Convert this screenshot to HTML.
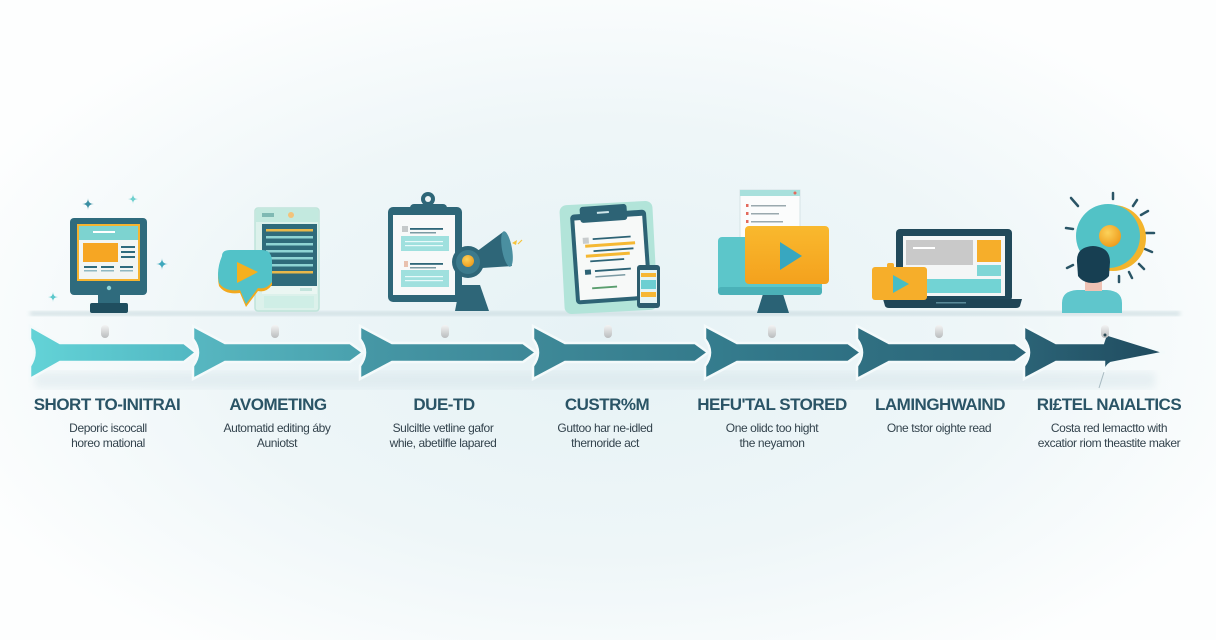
<!DOCTYPE html>
<html><head><meta charset="utf-8">
<style>
html,body{margin:0;padding:0;}
body{width:1216px;height:640px;overflow:hidden;background:#fbfdfd;}
svg{display:block;}
.t{font-family:"Liberation Sans",Arial,sans-serif;font-weight:bold;font-size:17px;letter-spacing:-0.5px;fill:#2a5466;text-anchor:middle;}
.d{font-family:"Liberation Sans",Arial,sans-serif;font-size:12px;letter-spacing:-0.4px;fill:#33434d;text-anchor:middle;}
</style></head>
<body>
<svg width="1216" height="640" viewBox="0 0 1216 640" xmlns="http://www.w3.org/2000/svg">
<defs>
<radialGradient id="bg" cx="608" cy="340" r="700" gradientUnits="userSpaceOnUse" gradientTransform="translate(0 340) scale(1 0.55) translate(0 -340)">
<stop offset="0" stop-color="#e6f2f5"/>
<stop offset="0.55" stop-color="#eef6f8"/>
<stop offset="1" stop-color="#fdfefe"/>
</radialGradient>
<filter id="blur4"><feGaussianBlur stdDeviation="4"/></filter>
<filter id="blur2"><feGaussianBlur stdDeviation="2"/></filter>
<linearGradient id="g1" x1="0" x2="1"><stop offset="0" stop-color="#63d3d7"/><stop offset="1" stop-color="#52b7c2"/></linearGradient>
<linearGradient id="g2" x1="0" x2="1"><stop offset="0" stop-color="#57b7c1"/><stop offset="1" stop-color="#49a0ad"/></linearGradient>
<linearGradient id="g3" x1="0" x2="1"><stop offset="0" stop-color="#4698a6"/><stop offset="1" stop-color="#3d8797"/></linearGradient>
<linearGradient id="g4" x1="0" x2="1"><stop offset="0" stop-color="#3e8998"/><stop offset="1" stop-color="#347a8b"/></linearGradient>
<linearGradient id="g5" x1="0" x2="1"><stop offset="0" stop-color="#357d8e"/><stop offset="1" stop-color="#2e6f82"/></linearGradient>
<linearGradient id="g6" x1="0" x2="1"><stop offset="0" stop-color="#307082"/><stop offset="1" stop-color="#2a6477"/></linearGradient>
<linearGradient id="g7" x1="0" x2="1"><stop offset="0" stop-color="#2b6376"/><stop offset="1" stop-color="#1f4a5e"/></linearGradient>
<linearGradient id="pin" x1="0" x2="0" y1="0" y2="1"><stop offset="0" stop-color="#f4f4f4"/><stop offset="1" stop-color="#b9bcbd"/></linearGradient>
<linearGradient id="org" x1="0" x2="0" y1="0" y2="1"><stop offset="0" stop-color="#f9b92e"/><stop offset="1" stop-color="#f4a11d"/></linearGradient>
<radialGradient id="dot" cx="0.4" cy="0.35" r="0.7"><stop offset="0" stop-color="#fcd25a"/><stop offset="1" stop-color="#ee9a1a"/></radialGradient>
</defs>

<rect width="1216" height="640" fill="url(#bg)"/>

<rect x="30" y="311" width="1150" height="5" fill="#c7d9de" opacity="0.7" filter="url(#blur2)"/>
<rect x="35" y="372" width="1120" height="16" fill="#d4e3e8" opacity="0.45" filter="url(#blur4)"/>

<!-- ===== ICON 1 ===== -->
<g>
<path d="M88,198 Q88,204 94,204 Q88,204 88,210 Q88,204 82,204 Q88,204 88,198Z" fill="#3a8fa3"/>
<path d="M133,194 Q133,199 138,199 Q133,199 133,204 Q133,199 128,199 Q133,199 133,194Z" fill="#6fd0cf"/>
<path d="M162,258 Q162,264 168,264 Q162,264 162,270 Q162,264 156,264 Q162,264 162,258Z" fill="#3fa8bd"/>
<path d="M53,292 Q53,297 58,297 Q53,297 53,302 Q53,297 48,297 Q53,297 53,292Z" fill="#5cc8cc"/>
<rect x="70" y="218" width="77" height="77" rx="4" fill="#2f6b7d"/>
<rect x="77" y="224" width="63" height="57" fill="#f5b430"/>
<rect x="79" y="226" width="59" height="53" fill="#f2f5f3"/>
<rect x="79" y="226" width="59" height="14" fill="#7dd3d0"/>
<rect x="93" y="231" width="22" height="2" fill="#ffffff"/>
<rect x="83" y="243" width="35" height="19" fill="#f6a623"/>
<rect x="121" y="246" width="14" height="2" fill="#2f6b7d"/>
<rect x="121" y="251" width="14" height="2" fill="#2f6b7d"/>
<rect x="121" y="256" width="14" height="2" fill="#2f6b7d"/>
<rect x="84" y="266" width="13" height="2" fill="#2f6b7d"/>
<rect x="101" y="266" width="13" height="2" fill="#2f6b7d"/>
<rect x="120" y="266" width="13" height="2" fill="#2f6b7d"/>
<rect x="84" y="270" width="13" height="1.5" fill="#8fb8c2"/>
<rect x="101" y="270" width="13" height="1.5" fill="#8fb8c2"/>
<rect x="120" y="270" width="13" height="1.5" fill="#8fb8c2"/>
<circle cx="109" cy="288" r="2.2" fill="#8fd3d6"/>
<rect x="98" y="295" width="22" height="9" fill="#2f6b7d"/>
<rect x="90" y="303" width="38" height="10" rx="2" fill="#1f4e5f"/>
</g>

<!-- ===== ICON 2 ===== -->
<g>
<rect x="255" y="208" width="64" height="103" rx="3" fill="#dcf1eb" stroke="#bfe4da" stroke-width="1.5"/>
<rect x="256" y="209" width="62" height="13" fill="#c3e9df"/>
<rect x="262" y="213" width="12" height="4" fill="#7fb9b3"/>
<circle cx="291" cy="215" r="3" fill="#f3c37a"/>
<rect x="262" y="224" width="55" height="62" fill="#2f6b7b"/>
<rect x="266" y="229" width="47" height="2.5" fill="#e8b84a"/>
<rect x="266" y="236" width="47" height="2.5" fill="#8fd4d4"/>
<rect x="266" y="243" width="47" height="2.5" fill="#8fd4d4"/>
<rect x="266" y="250" width="47" height="2.5" fill="#8fd4d4"/>
<rect x="266" y="257" width="47" height="2.5" fill="#8fd4d4"/>
<rect x="266" y="264" width="47" height="2.5" fill="#8fd4d4"/>
<rect x="266" y="271" width="47" height="2.5" fill="#e8b84a"/>
<rect x="262" y="286" width="55" height="8" fill="#eaf6f2"/>
<rect x="300" y="288" width="12" height="3" fill="#c2e4dc"/>
<rect x="264" y="296" width="50" height="12" fill="#cfeee6"/>
<path d="M222,259 Q222,253 230,253 L262,253 Q272,253 272,265 L272,285 Q266,293 258,291 L246,307 L240,293 Q225,295 219,286 Q216,273 222,259Z" fill="#f2a91e"/>
<path d="M222,256 Q222,250 230,250 L262,250 Q272,250 272,262 L272,282 Q266,290 258,288 L246,304 L240,290 Q225,292 219,283 Q216,270 222,256Z" fill="#52c2c8"/>
<path d="M237,262 L258,272 L237,283Z" fill="#f6b01e"/>
</g>

<!-- ===== ICON 3 ===== -->
<g>
<rect x="388" y="207" width="74" height="95" rx="5" fill="#2e6678"/>
<rect x="393" y="215" width="62" height="80" fill="#f7f9f9"/>
<circle cx="428" cy="199" r="7" fill="#2e6678"/>
<circle cx="428" cy="199" r="3" fill="#eef5f6"/>
<rect x="410" y="204" width="37" height="11" rx="4" fill="#2e6678"/>
<rect x="402" y="226" width="6" height="6" fill="#c5c9ca"/>
<rect x="410" y="228" width="33" height="1.8" fill="#2e6678"/>
<rect x="410" y="232" width="26" height="1.5" fill="#7b9aa3"/>
<rect x="401" y="236" width="48" height="15" fill="#9fe0de"/>
<rect x="405" y="241" width="38" height="1.2" fill="#e8fafa"/>
<rect x="405" y="245" width="38" height="1.2" fill="#e8fafa"/>
<rect x="404" y="261" width="4" height="6" fill="#e9c1ae"/>
<rect x="410" y="263" width="33" height="1.8" fill="#2e6678"/>
<rect x="410" y="267" width="26" height="1.5" fill="#7b9aa3"/>
<rect x="401" y="270" width="48" height="17" fill="#9fe0de"/>
<rect x="405" y="276" width="38" height="1.2" fill="#e8fafa"/>
<rect x="405" y="280" width="38" height="1.2" fill="#e8fafa"/>
<path d="M460,285 L480,285 L489,311 L455,311Z" fill="#2e6678"/>
<path d="M476,252 L503,232 L512,266 L482,268Z" fill="#2e6678"/>
<ellipse cx="507" cy="249" rx="5" ry="18" transform="rotate(-10 507 249)" fill="#4a8fa0"/>
<circle cx="468" cy="262" r="16" fill="#2e6678"/>
<circle cx="468" cy="262" r="12" fill="#3c7a8c"/>
<circle cx="468" cy="261" r="6" fill="url(#dot)"/>
<path d="M512,243 L517,240 L516,245Z" fill="#f5c33b"/>
<path d="M518,244 L522,240" stroke="#f5c33b" stroke-width="1.2"/>
</g>

<!-- ===== ICON 4 ===== -->
<g>
<rect x="562" y="203" width="93" height="109" rx="7" fill="#b2e4d9" transform="rotate(-3 608 257)"/>
<g transform="rotate(-4 611 257)">
<rect x="573" y="212" width="76" height="90" rx="4" fill="#2d6375"/>
<rect x="577" y="218" width="68" height="80" fill="#f7f9f8"/>
<rect x="583" y="205" width="47" height="16" rx="3" fill="#2d6375"/>
<rect x="600" y="211" width="12" height="2" fill="#cfe6ea"/>
<rect x="584" y="236" width="6" height="6" fill="#c8cccd"/>
<rect x="594" y="237" width="38" height="1.8" fill="#2d6375"/>
<rect x="586" y="243" width="50" height="3" fill="#f5b833"/>
<rect x="594" y="249" width="40" height="1.8" fill="#2d6375"/>
<rect x="586" y="253" width="44" height="3" fill="#f5b833"/>
<rect x="590" y="259" width="34" height="1.8" fill="#2d6375"/>
<rect x="584" y="268" width="6" height="5" fill="#2d6375"/>
<rect x="594" y="269" width="36" height="1.8" fill="#2d6375"/>
<rect x="594" y="275" width="30" height="1.5" fill="#7b9aa3"/>
<rect x="590" y="286" width="25" height="1.8" fill="#5a9e6e"/>
</g>
<rect x="637" y="265" width="23" height="43" rx="3" fill="#2d5d6e"/>
<rect x="640" y="270" width="17" height="33" fill="#e4f4f4"/>
<rect x="641" y="273" width="15" height="4" fill="#f6b733"/>
<rect x="641" y="280" width="15" height="9" fill="#6ccfd2"/>
<rect x="641" y="292" width="15" height="5" fill="#f6b733"/>
</g>

<!-- ===== ICON 5 ===== -->
<g>
<rect x="740" y="190" width="60" height="50" fill="#fbfcfc" stroke="#d6e3e6"/>
<rect x="740" y="190" width="60" height="6" fill="#a8e0dc"/>
<circle cx="795" cy="193" r="1.5" fill="#e36a5c"/>
<rect x="746" y="204" width="2.5" height="3" fill="#e36a5c"/>
<rect x="751" y="205" width="35" height="1.5" fill="#9aa9ae"/>
<rect x="746" y="212" width="2.5" height="3" fill="#e36a5c"/>
<rect x="751" y="213" width="28" height="1.5" fill="#9aa9ae"/>
<rect x="746" y="220" width="2.5" height="3" fill="#e36a5c"/>
<rect x="751" y="221" width="32" height="1.5" fill="#9aa9ae"/>
<path d="M763,294 L783,294 L789,313 L757,313Z" fill="#2a6275"/>
<rect x="718" y="237" width="104" height="58" rx="4" fill="#5cc6ca"/>
<rect x="718" y="287" width="104" height="8" rx="3" fill="#4bb1b8"/>
<rect x="745" y="226" width="84" height="58" rx="4" fill="url(#org)"/>
<path d="M780,242 L802,256 L780,270Z" fill="#38a7c0"/>
</g>

<!-- ===== ICON 6 ===== -->
<g>
<rect x="896" y="229" width="116" height="72" rx="4" fill="#21495a"/>
<rect x="903" y="236" width="102" height="60" fill="#f4f6f6"/>
<rect x="906" y="240" width="67" height="25" fill="#c9c9c9"/>
<rect x="913" y="247" width="22" height="2" fill="#ffffff"/>
<rect x="977" y="240" width="24" height="22" fill="#f6ae2a"/>
<rect x="977" y="265" width="24" height="11" fill="#7fd6d6"/>
<rect x="906" y="279" width="95" height="14" fill="#72d3d4"/>
<path d="M883,299 L1022,299 L1020,306 Q1019,308 1016,308 L889,308 Q886,308 885,306Z" fill="#1f4556"/>
<rect x="936" y="302" width="30" height="1.5" fill="#5a8a99"/>
<rect x="887" y="263" width="7" height="6" rx="2" fill="#f6ae2a"/>
<rect x="872" y="267" width="55" height="33" rx="3" fill="#f6ae2a"/>
<path d="M893,275 L909,284 L893,293Z" fill="#47bdc5"/>
</g>

<!-- ===== ICON 7 ===== -->
<g stroke="#2a5566" stroke-width="2.5" stroke-linecap="round">
<line x1="1113" y1="193" x2="1113" y2="199"/>
<line x1="1071" y1="198" x2="1078" y2="206"/>
<line x1="1133" y1="206" x2="1137" y2="200"/>
<line x1="1141" y1="215" x2="1148" y2="211"/>
<line x1="1146" y1="233" x2="1154" y2="233"/>
<line x1="1145" y1="249" x2="1152" y2="252"/>
<line x1="1139" y1="264" x2="1144" y2="269"/>
<line x1="1129" y1="272" x2="1132" y2="278"/>
<line x1="1119" y1="276" x2="1119" y2="282"/>
<line x1="1066" y1="228" x2="1073" y2="229"/>
<line x1="1067" y1="268" x2="1073" y2="265"/>
</g>
<g>
<circle cx="1113" cy="238" r="33" fill="#f3b42c"/>
<circle cx="1108" cy="236" r="32" fill="#52c2c6"/>
<circle cx="1110" cy="236" r="11" fill="url(#dot)"/>
<path d="M1062,313 L1062,303 Q1062,291 1077,290 L1107,290 Q1122,291 1122,303 L1122,313Z" fill="#5fc6cc"/>
<rect x="1085" y="276" width="17" height="15" fill="#efc2b4"/>
<path d="M1077,262 Q1076,247 1093,246 Q1110,247 1110,262 L1109,276 Q1103,283 1093,283 Q1083,283 1078,276Z" fill="#173f52"/>
</g>

<!-- ===== ARROWS ===== -->
<g stroke="#f4fafb" stroke-width="2.5" stroke-linejoin="miter">
<path d="M30,326 L60,343 L184,343 L196,352.5 L184,362 L60,362 L30,379 L30,366 Q39,352.5 30,339Z" fill="url(#g1)"/>
<path d="M193,326 L225,343 L350,343 L363,352.5 L350,362 L225,362 L193,379 L193,366 Q203,352.5 193,339Z" fill="url(#g2)"/>
<path d="M360,326 L392,343 L523,343 L536,352.5 L523,362 L392,362 L360,379 L360,366 Q370,352.5 360,339Z" fill="url(#g3)"/>
<path d="M533,326 L565,343 L695,343 L708,352.5 L695,362 L565,362 L533,379 L533,366 Q543,352.5 533,339Z" fill="url(#g4)"/>
<path d="M705,326 L737,343 L848,343 L861,352.5 L848,362 L737,362 L705,379 L705,366 Q715,352.5 705,339Z" fill="url(#g5)"/>
<path d="M857,326 L889,343 L1015,343 L1028,352.5 L1015,362 L889,362 L857,379 L857,366 Q867,352.5 857,339Z" fill="url(#g6)"/>
<path d="M1024,326 L1056,343 L1103,343 L1106,334 L1165,352.5 L1111,363 Q1106,366 1104,373 L1104,362 L1056,362 L1024,379 L1024,366 Q1034,352.5 1024,339Z" fill="url(#g7)"/>
</g>
<path d="M1104,372 L1099,388" stroke="#7e97a1" stroke-width="1" opacity="0.6"/>

<!-- pins -->
<g>
<rect x="101" y="325" width="8" height="13" rx="4" fill="url(#pin)"/>
<rect x="271" y="325" width="8" height="13" rx="4" fill="url(#pin)"/>
<rect x="441" y="325" width="8" height="13" rx="4" fill="url(#pin)"/>
<rect x="604" y="325" width="8" height="13" rx="4" fill="url(#pin)"/>
<rect x="768" y="325" width="8" height="13" rx="4" fill="url(#pin)"/>
<rect x="935" y="325" width="8" height="13" rx="4" fill="url(#pin)"/>
<rect x="1101" y="325" width="8" height="13" rx="4" fill="url(#pin)"/>
<circle cx="1105" cy="335" r="1.5" fill="#2a4a55"/>
</g>

<!-- titles -->
<text class="t" x="107" y="410">SHORT TO-INITRAI</text>
<text class="t" x="278" y="410">AVOMETING</text>
<text class="t" x="444" y="410">DUE-TD</text>
<text class="t" x="607" y="410">CUSTR%M</text>
<text class="t" x="772" y="410">HEFU'TAL STORED</text>
<text class="t" x="940" y="410">LAMINGHWAIND</text>
<text class="t" x="1109" y="410">RI£TEL NAIALTICS</text>

<!-- descriptions -->
<text class="d" x="108" y="432">Deporic iscocall</text>
<text class="d" x="108" y="447">horeo mational</text>
<text class="d" x="277" y="432">Automatid editing áby</text>
<text class="d" x="277" y="447">Auniotst</text>
<text class="d" x="443" y="432">Sulciltle vetline gafor</text>
<text class="d" x="443" y="447">whie, abetilfle lapared</text>
<text class="d" x="605" y="432">Guttoo har ne-idled</text>
<text class="d" x="605" y="447">thernoride act</text>
<text class="d" x="772" y="432">One olidc too hight</text>
<text class="d" x="772" y="447">the neyamon</text>
<text class="d" x="939" y="432">One tstor oighte read</text>
<text class="d" x="1109" y="432">Costa red lemactto with</text>
<text class="d" x="1109" y="447">excatior riom theastite maker</text>
</svg>
</body></html>
